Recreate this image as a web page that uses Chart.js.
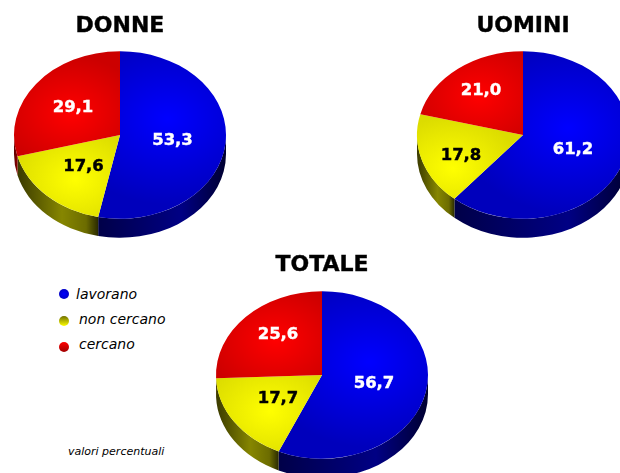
<!DOCTYPE html>
<html>
<head>
<meta charset="utf-8">
<script src="https://cdn.jsdelivr.net/npm/chart.js@4"></script>
<style>
  html, body { margin: 0; padding: 0; background: #fff; overflow: hidden; width: 620px; height: 473px; }
  body { position: relative; font-family: "DejaVu Sans", sans-serif; color: #000; }
  canvas { position: absolute; }
  .title { position: absolute; width: 200px; margin-left: -100px; text-align: center; font-weight: bold; font-size: 22px; line-height: 26px; -webkit-text-stroke: 0.4px #000; }
  .leg { position: absolute; font-style: italic; font-size: 14px; line-height: 18px; white-space: nowrap; }
  .dot { position: absolute; width: 10px; height: 10px; border-radius: 50%; }
  .note { position: absolute; left: 68px; top: 445px; font-style: italic; font-size: 11px; line-height: 14px; white-space: nowrap; }
</style>
</head>
<body>
<script>
// Data
const categories = ['lavorano', 'non cercano', 'cercano'];
const pieTitles = ['DONNE', 'UOMINI', 'TOTALE'];
const donne = [53.3, 17.6, 29.1];
const uomini = [61.2, 17.8, 21.0];
const totale = [56.7, 17.7, 25.6];
const noteText = 'valori percentuali';

// Label spots relative to each pie centre (the reference places them by hand)
const donneLabels = [[52.5, 6], [-36.5, 32], [-47, -27]];
const uominiLabels = [[50, 15], [-62, 21], [-42, -44]];
const totaleLabels = [[52, 9], [-44, 24], [-44, -40]];

// Colours per slice: top face (centre, edge), label, side wall stops
const faceColors = [['#0000ff', '#0000bc'], ['#ffff00', '#dcdc00'], ['#ff0000', '#cc0000']];
const labelColors = ['#fff', '#000', '#fff'];
const sideColors = [
  [[0, '#000048'], [0.65, '#000084'], [1, '#000030']],
  [[0, '#3a3a00'], [0.55, '#868600'], [0.85, '#6c6c00'], [1, '#2a2a00']],
  [[0, '#5a0000'], [1, '#900000']]
];
// Shine offset from the label, and shine radius, per slice
const shineOffset = [[-5, -22], [-8, 12], [-2, 5]];
const shineRadius = [108, 66, 72];

const SIZE = 230, PAD = 9, SQUASH = 0.79, DEPTH = 19;

// Squash the pie into an ellipse and draw the side wall under it
const tiltPlugin = {
  id: 'tilt',
  beforeDatasetsDraw(chart) {
    const ctx = chart.ctx;
    const arcs = chart.getDatasetMeta(0).data;
    arcs.forEach((arc, i) => {
      const a0 = Math.max(arc.startAngle, 0);
      const a1 = Math.min(arc.endAngle, Math.PI);
      if (a1 <= a0) return;
      const rx = arc.outerRadius, ry = rx * SQUASH;
      const g = ctx.createLinearGradient(arc.x + Math.cos(a1) * rx, 0, arc.x + Math.cos(a0) * rx, 0);
      sideColors[i].forEach(s => g.addColorStop(s[0], s[1]));
      ctx.beginPath();
      ctx.ellipse(arc.x, arc.y, rx, ry, 0, a0, a1);
      ctx.ellipse(arc.x, arc.y + DEPTH, rx, ry, 0, a1, a0, true);
      ctx.closePath();
      ctx.fillStyle = g;
      ctx.fill();
    });
    ctx.save();
    ctx.translate(SIZE / 2, SIZE / 2);
    ctx.scale(1, SQUASH);
    ctx.translate(-SIZE / 2, -SIZE / 2);
  },
  afterDatasetsDraw(chart) {
    const ctx = chart.ctx;
    ctx.restore();
    const values = chart.data.datasets[0].data;
    const spots = chart.options.plugins.tilt.spots;
    ctx.font = 'bold 16.5px "DejaVu Sans"';
    ctx.textAlign = 'center';
    ctx.textBaseline = 'middle';
    ctx.lineWidth = 0.4;
    values.forEach((v, i) => {
      const text = v.toFixed(1).replace('.', ',');
      ctx.fillStyle = labelColors[i];
      ctx.strokeStyle = labelColors[i];
      ctx.fillText(text, SIZE / 2 + spots[i][0], SIZE / 2 + spots[i][1]);
      ctx.strokeText(text, SIZE / 2 + spots[i][0], SIZE / 2 + spots[i][1]);
    });
  }
};

// Radial shine near the label of each slice (y is divided because the face gets squashed)
function faceGradient(c) {
  const i = c.dataIndex;
  const spot = c.chart.options.plugins.tilt.spots[i];
  const x = SIZE / 2 + spot[0] + shineOffset[i][0];
  const y = SIZE / 2 + (spot[1] + shineOffset[i][1]) / SQUASH;
  const g = c.chart.ctx.createRadialGradient(x, y, 0, x, y, shineRadius[i]);
  g.addColorStop(0, faceColors[i][0]);
  g.addColorStop(1, faceColors[i][1]);
  return g;
}

function addPie(values, spots, cx, cy) {
  const canvas = document.createElement('canvas');
  canvas.width = SIZE;
  canvas.height = SIZE;
  canvas.style.left = (cx - SIZE / 2) + 'px';
  canvas.style.top = (cy - SIZE / 2) + 'px';
  document.body.appendChild(canvas);
  new Chart(canvas.getContext('2d'), {
    type: 'pie',
    data: {
      labels: categories,
      datasets: [{ data: values, backgroundColor: faceGradient, borderWidth: 0 }]
    },
    options: {
      responsive: false,
      animation: false,
      layout: { padding: PAD },
      plugins: { legend: { display: false }, tooltip: { enabled: false }, tilt: { spots: spots } }
    },
    plugins: [tiltPlugin]
  });
}

function addText(cls, text, left, top) {
  const el = document.createElement('div');
  el.className = cls;
  el.textContent = text;
  el.style.left = left + 'px';
  el.style.top = top + 'px';
  document.body.appendChild(el);
  return el;
}

addPie(donne, donneLabels, 119.5, 135);
addPie(uomini, uominiLabels, 523, 135);
addPie(totale, totaleLabels, 322, 375);

addText('title', pieTitles[0], 120, 12);
addText('title', pieTitles[1], 523, 12);
addText('title', pieTitles[2], 322, 251);

// Legend
const legendX = [76, 79, 79];
const legendY = [285, 310, 335];
const dotY = [289, 316, 342];
const dotFill = [
  'radial-gradient(circle, #0000ff, #0000b0)',
  'linear-gradient(#707000, #ffff00)',
  'linear-gradient(#ff0000, #a00000)'
];
categories.forEach((name, i) => {
  addText('leg', name, legendX[i], legendY[i]);
  const dot = addText('dot', '', 59, dotY[i]);
  dot.style.background = dotFill[i];
});
addText('note', noteText, 68, 445);
</script>
</body>
</html>
